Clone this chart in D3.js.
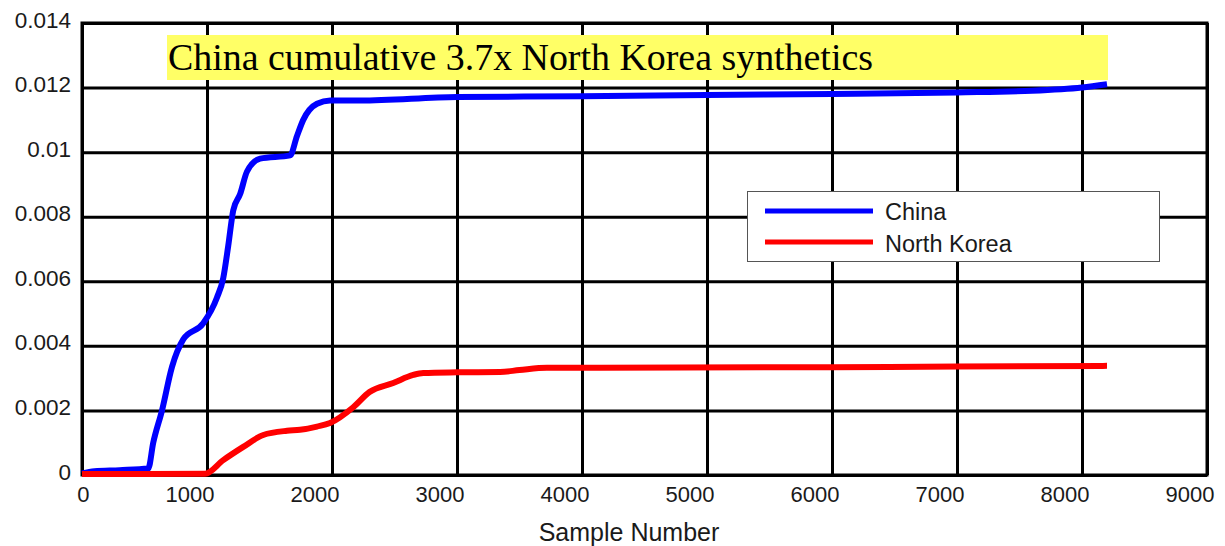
<!DOCTYPE html>
<html>
<head>
<meta charset="utf-8">
<script src="https://cdn.jsdelivr.net/npm/d3@7"></script>
<style>
  body { margin: 0; background: #fff; }
  svg { display: block; }
</style>
</head>
<body>
<svg id="chart"></svg>
<script>
// data
var chinaSamples = [0, 100, 300, 530, 570, 640, 720, 810, 970, 1080, 1130, 1170, 1210, 1265, 1320, 1425, 1665, 1720, 1770, 1880, 1985, 2225, 3000, 4000, 5000, 6000, 7000, 7600, 8000, 8200]
var chinaValues = [0.00005, 0.00012, 0.00015, 0.0002, 0.001, 0.002, 0.00335, 0.0042, 0.0047, 0.0055, 0.0061, 0.0071, 0.0082, 0.0087, 0.0094, 0.0098, 0.0099, 0.0105, 0.011, 0.0115, 0.0116, 0.0116, 0.01171, 0.01173, 0.01177, 0.0118, 0.01185, 0.0119, 0.012, 0.0121]

var nkSamples = [0, 500, 985, 1130, 1290, 1450, 1640, 1744, 1880, 1984, 2170, 2300, 2490, 2650, 2730, 3000, 3345, 3500, 3720, 4140, 6000, 7000, 8200]
var nkValues = [0.00003, 0.00003, 0.00004, 0.00046, 0.00087, 0.00124, 0.00137, 0.0014, 0.0015, 0.00161, 0.0021, 0.00257, 0.00285, 0.0031, 0.00316, 0.00318, 0.00319, 0.00325, 0.00332, 0.00332, 0.00334, 0.00336, 0.00338]

var xTicks = [0, 1000, 2000, 3000, 4000, 5000, 6000, 7000, 8000, 9000]
var yTicks = [0, 0.002, 0.004, 0.006, 0.008, 0.01, 0.012, 0.014]
var yTickLabels = ["0", "0.002", "0.004", "0.006", "0.008", "0.01", "0.012", "0.014"]

var seriesNames = ["China", "North Korea"]
var seriesColors = ["#0000ff", "#ff0000"]
var titleText = "China cumulative 3.7x North Korea synthetics"
var xLabel = "Sample Number"

var dimensions = {
    width: 1225,
    height: 546,
    margin: { top: 23, bottom: 71, left: 82, right: 18 }
}

var svg = d3.select("#chart")
    .attr("width", dimensions.width)
    .attr("height", dimensions.height)

var xScale = d3.scaleLinear()
    .domain([0, 9000])
    .range([dimensions.margin.left, dimensions.width - dimensions.margin.right])

var yScale = d3.scaleLinear()
    .domain([0, 0.014])
    .range([dimensions.height - dimensions.margin.bottom, dimensions.margin.top])

var plotW = xScale(9000) - xScale(0)
var plotH = yScale(0) - yScale(0.014)

// grid + axes
var xAxisGen = d3.axisBottom(xScale)
    .tickValues(xTicks)
    .tickSize(-plotH)
    .tickFormat(d3.format("d"))

var yAxisGen = d3.axisLeft(yScale)
    .tickValues(yTicks)
    .tickSize(-plotW)
    .tickFormat((d, i) => yTickLabels[i])

var xg = svg.append("g")
    .attr("transform", "translate(0," + yScale(0) + ")")
    .call(xAxisGen)
xg.select(".domain").remove()
xg.selectAll("line").attr("stroke", "#000").attr("stroke-width", 3)
xg.selectAll("text")
    .attr("y", 27)
    .attr("dy", 0)
    .attr("x", 7)
    .attr("text-anchor", "end")
    .style("font-family", "'Liberation Sans', Arial, sans-serif")
    .style("font-size", "22px")
    .attr("fill", "#1a1a1a")

var yg = svg.append("g")
    .attr("transform", "translate(" + xScale(0) + ",0)")
    .call(yAxisGen)
yg.select(".domain").remove()
yg.selectAll("line").attr("stroke", "#000").attr("stroke-width", 3)
yg.selectAll("text")
    .attr("x", -11)
    .attr("dy", 4)
    .attr("text-anchor", "end")
    .style("font-family", "'Liberation Sans', Arial, sans-serif")
    .style("font-size", "22.5px")
    .attr("fill", "#1a1a1a")

// outer frame
svg.append("rect")
    .attr("x", xScale(0))
    .attr("y", yScale(0.014))
    .attr("width", plotW)
    .attr("height", plotH)
    .attr("fill", "none")
    .attr("stroke", "#000")
    .attr("stroke-width", 3)

svg.append("text")
    .attr("x", 629)
    .attr("y", 541)
    .attr("text-anchor", "middle")
    .style("font-family", "'Liberation Sans', Arial, sans-serif")
    .style("font-size", "25px")
    .attr("fill", "#1a1a1a")
    .text(xLabel)

// lines
var line = d3.line()
    .x(d => xScale(d[0]))
    .y(d => yScale(d[1]))
    .curve(d3.curveMonotoneX)

var chinaData = chinaSamples.map((s, i) => [s, chinaValues[i]])
var nkData = nkSamples.map((s, i) => [s, nkValues[i]])

svg.append("path")
    .datum(chinaData)
    .attr("d", line)
    .attr("fill", "none")
    .attr("stroke", seriesColors[0])
    .attr("stroke-width", 6)
    .attr("stroke-linejoin", "round")

svg.append("path")
    .datum(nkData)
    .attr("d", line)
    .attr("fill", "none")
    .attr("stroke", seriesColors[1])
    .attr("stroke-width", 6)
    .attr("stroke-linejoin", "round")

// legend
var legend = svg.append("g")
legend.append("rect")
    .attr("x", 747.5)
    .attr("y", 191.5)
    .attr("width", 412)
    .attr("height", 70)
    .attr("fill", "#fff")
    .attr("stroke", "#555")
    .attr("stroke-width", 1)

seriesNames.forEach((name, i) => {
    var ly = 211 + i * 31
    legend.append("line")
        .attr("x1", 765).attr("x2", 873)
        .attr("y1", ly).attr("y2", ly)
        .attr("stroke", seriesColors[i])
        .attr("stroke-width", 5)
    legend.append("text")
        .attr("x", 885)
        .attr("y", 220 + i * 32)
        .style("font-family", "'Liberation Sans', Arial, sans-serif")
        .style("font-size", "23.5px")
        .attr("fill", "#1a1a1a")
        .text(name)
})

// yellow title box
svg.append("rect")
    .attr("x", 167)
    .attr("y", 35)
    .attr("width", 941)
    .attr("height", 45)
    .attr("fill", "#ffff66")

svg.append("text")
    .attr("x", 168)
    .attr("y", 70)
    .attr("textLength", 705)
    .attr("lengthAdjust", "spacingAndGlyphs")
    .style("font-family", "'Liberation Serif', 'Times New Roman', serif")
    .style("font-size", "37px")
    .attr("fill", "#000")
    .text(titleText)
</script>
</body>
</html>
